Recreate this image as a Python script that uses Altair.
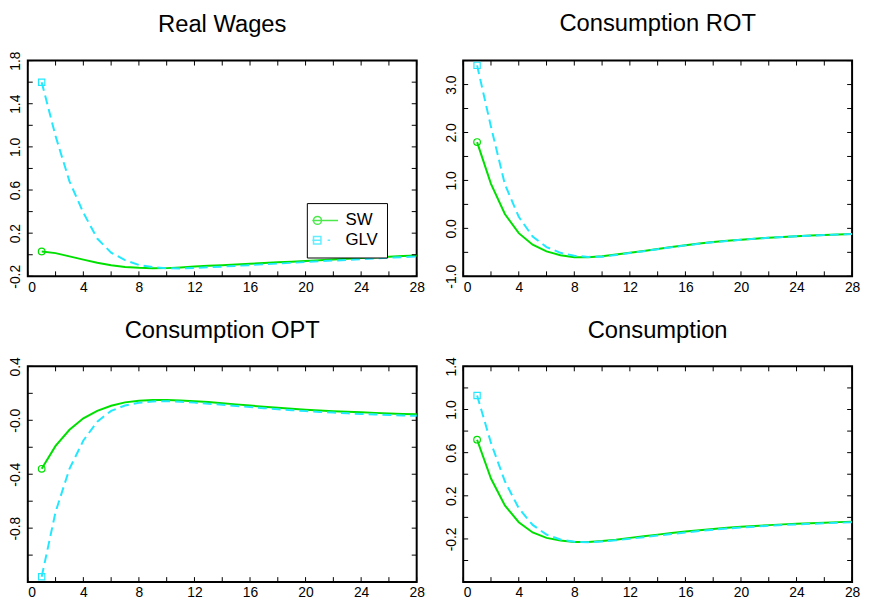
import altair as alt
import pandas as pd

# ---------------- data ----------------
quarters = list(range(1, 29))

titles = ["Real Wages", "Consumption ROT", "Consumption OPT", "Consumption"]
series_names = ["SW", "GLV"]

rw_sw = [0.03, 0.015, -0.015, -0.045, -0.075, -0.098, -0.113, -0.121, -0.125, -0.124,
         -0.118, -0.110, -0.103, -0.097, -0.090, -0.084, -0.077, -0.070, -0.064, -0.057,
         -0.051, -0.044, -0.038, -0.031, -0.025, -0.018, -0.012, -0.006]
rw_glv = [1.60, 1.10, 0.68, 0.39, 0.15, 0.02, -0.05, -0.095, -0.115, -0.125,
          -0.127, -0.122, -0.116, -0.110, -0.103, -0.096, -0.089, -0.082, -0.075, -0.068,
          -0.061, -0.054, -0.048, -0.041, -0.035, -0.028, -0.022, -0.016]

rot_sw = [1.80, 0.93, 0.30, -0.10, -0.34, -0.48, -0.56, -0.60, -0.60, -0.58,
          -0.545, -0.51, -0.47, -0.43, -0.39, -0.35, -0.315, -0.285, -0.26, -0.235,
          -0.215, -0.195, -0.178, -0.163, -0.15, -0.138, -0.127, -0.117]
rot_glv = [3.40, 2.12, 0.92, 0.24, -0.17, -0.39, -0.51, -0.57, -0.595, -0.59,
           -0.555, -0.515, -0.475, -0.435, -0.395, -0.355, -0.32, -0.29, -0.262, -0.238,
           -0.217, -0.197, -0.18, -0.165, -0.152, -0.14, -0.129, -0.119]

opt_sw = [-0.36, -0.19, -0.07, 0.015, 0.07, 0.108, 0.133, 0.145, 0.15, 0.15,
          0.147, 0.142, 0.135, 0.127, 0.118, 0.109, 0.101, 0.093, 0.085, 0.078,
          0.072, 0.067, 0.063, 0.059, 0.055, 0.051, 0.047, 0.044]
opt_glv = [-1.16, -0.68, -0.36, -0.15, -0.01, 0.07, 0.11, 0.13, 0.14, 0.142,
           0.138, 0.131, 0.123, 0.115, 0.106, 0.098, 0.09, 0.082, 0.075, 0.068,
           0.062, 0.057, 0.052, 0.047, 0.043, 0.039, 0.036, 0.033]

c_sw = [0.72, 0.36, 0.11, -0.045, -0.14, -0.19, -0.215, -0.228, -0.228, -0.22,
        -0.207, -0.19, -0.175, -0.16, -0.145, -0.131, -0.119, -0.107, -0.096, -0.087,
        -0.079, -0.072, -0.065, -0.059, -0.054, -0.049, -0.044, -0.04]
c_glv = [1.13, 0.69, 0.335, 0.085, -0.07, -0.16, -0.205, -0.226, -0.23, -0.224,
         -0.212, -0.198, -0.184, -0.169, -0.154, -0.14, -0.127, -0.115, -0.104, -0.094,
         -0.086, -0.078, -0.071, -0.065, -0.06, -0.055, -0.05, -0.046]

sw_all = [rw_sw, rot_sw, opt_sw, c_sw]
glv_all = [rw_glv, rot_glv, opt_glv, c_glv]

x_tick_values = [0, 2, 4, 6, 8, 10, 12, 14, 16, 18, 20, 22, 24, 26, 28]
x_label_values = [0, 4, 8, 12, 16, 20, 24, 28]

y_domains = [[-0.2, 1.8], [-1.0, 3.5], [-1.2, 0.4], [-0.6, 1.4]]
y_tick_values = [
    [-0.2, 0.0, 0.2, 0.4, 0.6, 0.8, 1.0, 1.2, 1.4, 1.6, 1.8],
    [-1.0, -0.5, 0.0, 0.5, 1.0, 1.5, 2.0, 2.5, 3.0, 3.5],
    [-1.2, -1.0, -0.8, -0.6, -0.4, -0.2, 0.0, 0.2, 0.4],
    [-0.6, -0.4, -0.2, 0.0, 0.2, 0.4, 0.6, 0.8, 1.0, 1.2, 1.4],
]
y_label_values = [
    [-0.2, 0.2, 0.6, 1.0, 1.4, 1.8],
    [-1.0, 0.0, 1.0, 2.0, 3.0],
    [0.4, 0.0, -0.4, -0.8],
    [1.4, 1.0, 0.6, 0.2, -0.2],
]
y_label_texts = [
    ["-0.2", "0.2", "0.6", "1.0", "1.4", "1.8"],
    ["-1.0", "0.0", "1.0", "2.0", "3.0"],
    ["0.4", "-0.0", "-0.4", "-0.8"],
    ["1.4", "1.0", "0.6", "0.2", "-0.2"],
]

# ---------------- styling ----------------
GREEN = "#00e000"
CYAN = "#22e8ff"
FONT = "Liberation Sans"
PW, PH = 393, 218
TICK = 5
TITLE_OFFSETS = [-10, 0, -10, -10]

SW_PATH = "M-2.6,0H2.6M-0.75,0A0.8,0.8,0,1,1,-2.35,0A0.8,0.8,0,1,1,-0.75,0"
GLV_PATH = "M-2.6,0H-0.8M-2.35,-0.75H-0.85V0.75H-2.35ZM0.5,0H1.0"


def label_expr(vals, texts):
    e = ""
    for v, t in zip(vals, texts):
        e += f"abs(datum.value - ({v})) < 1e-6 ? '{t}' : "
    return e + "''"


def panel(i, with_legend=False):
    rows = []
    for q, a, b in zip(quarters, sw_all[i], glv_all[i]):
        rows.append({"q": q, "series": "SW", "v": a})
        rows.append({"q": q, "series": "GLV", "v": b})
    df = pd.DataFrame(rows)
    base = alt.Chart(df)
    xs = alt.Scale(domain=[0, 28], nice=False, zero=False)
    ys = alt.Scale(domain=y_domains[i], nice=False, zero=False)

    x_axis = alt.Axis(orient="bottom", values=x_tick_values,
                      labelExpr=label_expr(x_label_values, [str(v) for v in x_label_values]),
                      labelFont=FONT, labelFontSize=14, labelColor="black", labelPadding=4,
                      labelAlign={"condition": {"test": "datum.value == 0", "value": "left"},
                                  "value": "center"},
                      labelOverlap=False, grid=False, domain=False, ticks=False, title=None)
    y_axis = alt.Axis(orient="left", values=y_tick_values[i],
                      labelExpr=label_expr(y_label_values[i], y_label_texts[i]),
                      labelFont=FONT, labelFontSize=14, labelColor="black", labelPadding=5,
                      labelAngle=270, labelAlign="center", labelBaseline="bottom",
                      labelOverlap=False, grid=False, domain=False, ticks=False, title=None)

    sw_line = base.transform_filter("datum.series == 'SW'").mark_line(
        color=GREEN, strokeWidth=2).encode(
        x=alt.X("q:Q", scale=xs, axis=x_axis), y=alt.Y("v:Q", scale=ys, axis=y_axis))
    glv_line = base.transform_filter("datum.series == 'GLV'").mark_line(
        color=CYAN, strokeWidth=2, strokeDash=[9, 5]).encode(
        x=alt.X("q:Q", scale=xs, axis=None), y=alt.Y("v:Q", scale=ys, axis=None))
    sw_pt = base.transform_filter("datum.series == 'SW' && datum.q == 1").mark_point(
        shape="circle", filled=False, color=GREEN, size=45, strokeWidth=1.2, opacity=1).encode(
        x=alt.X("q:Q", scale=xs, axis=None), y=alt.Y("v:Q", scale=ys, axis=None))
    glv_pt = base.transform_filter("datum.series == 'GLV' && datum.q == 1").mark_point(
        shape="square", filled=False, color=CYAN, size=40, strokeWidth=1.2, opacity=1).encode(
        x=alt.X("q:Q", scale=xs, axis=None), y=alt.Y("v:Q", scale=ys, axis=None))

    # inward tick marks on all four sides of the frame
    xt = alt.Chart(pd.DataFrame({"t": x_tick_values}))
    yt = alt.Chart(pd.DataFrame({"t": y_tick_values[i]}))
    rk = dict(color="black", strokeWidth=1)
    t_bottom = xt.mark_rule(**rk).encode(x=alt.X("t:Q", scale=xs, axis=None),
                                         y=alt.value(PH - TICK), y2=alt.value(PH))
    t_top = xt.mark_rule(**rk).encode(x=alt.X("t:Q", scale=xs, axis=None),
                                      y=alt.value(0), y2=alt.value(TICK))
    t_left = yt.mark_rule(**rk).encode(y=alt.Y("t:Q", scale=ys, axis=None),
                                       x=alt.value(0), x2=alt.value(TICK))
    t_right = yt.mark_rule(**rk).encode(y=alt.Y("t:Q", scale=ys, axis=None),
                                        x=alt.value(PW - TICK), x2=alt.value(PW))

    layers = [sw_line, glv_line, sw_pt, glv_pt, t_bottom, t_top, t_left, t_right]
    if with_legend:
        leg_kw = dict(title=None, orient="none", legendX=282, legendY=144,
                      symbolSize=100, symbolStrokeWidth=1.5, symbolOffset=1,
                      labelFont=FONT, labelFontSize=17, labelColor="black",
                      labelOffset=12, rowPadding=2, padding=9,
                      strokeColor="black", fillColor="white")
        leg = base.transform_filter("false").mark_point(filled=False, strokeWidth=1.5).encode(
            x=alt.X("q:Q", scale=xs, axis=None), y=alt.Y("v:Q", scale=ys, axis=None),
            color=alt.Color("series:N", scale=alt.Scale(domain=series_names, range=[GREEN, CYAN]),
                            legend=alt.Legend(**leg_kw)),
            shape=alt.Shape("series:N", scale=alt.Scale(domain=series_names, range=[SW_PATH, GLV_PATH]),
                            legend=alt.Legend(**leg_kw)),
        )
        layers.append(leg)

    return alt.layer(*layers).resolve_axis(x="independent", y="independent").properties(
        width=PW, height=PH,
        title=alt.TitleParams(titles[i], font=FONT, fontSize=24, fontWeight="normal",
                              anchor="middle", baseline="bottom", offset=TITLE_OFFSETS[i],
                              color="black"))


row1 = alt.hconcat(panel(0, True), panel(1), spacing=18).resolve_scale(
    color="independent", shape="independent").resolve_legend(color="independent", shape="independent")
row2 = alt.hconcat(panel(2), panel(3), spacing=18).resolve_scale(
    color="independent", shape="independent")
chart = alt.vconcat(row1, row2, spacing=23, padding=0, background="white").resolve_scale(
    color="independent", shape="independent").resolve_legend(
    color="independent", shape="independent").configure_view(stroke="black", strokeWidth=2)

chart.save("out.html", embed_options={"renderer": "svg", "actions": False})
